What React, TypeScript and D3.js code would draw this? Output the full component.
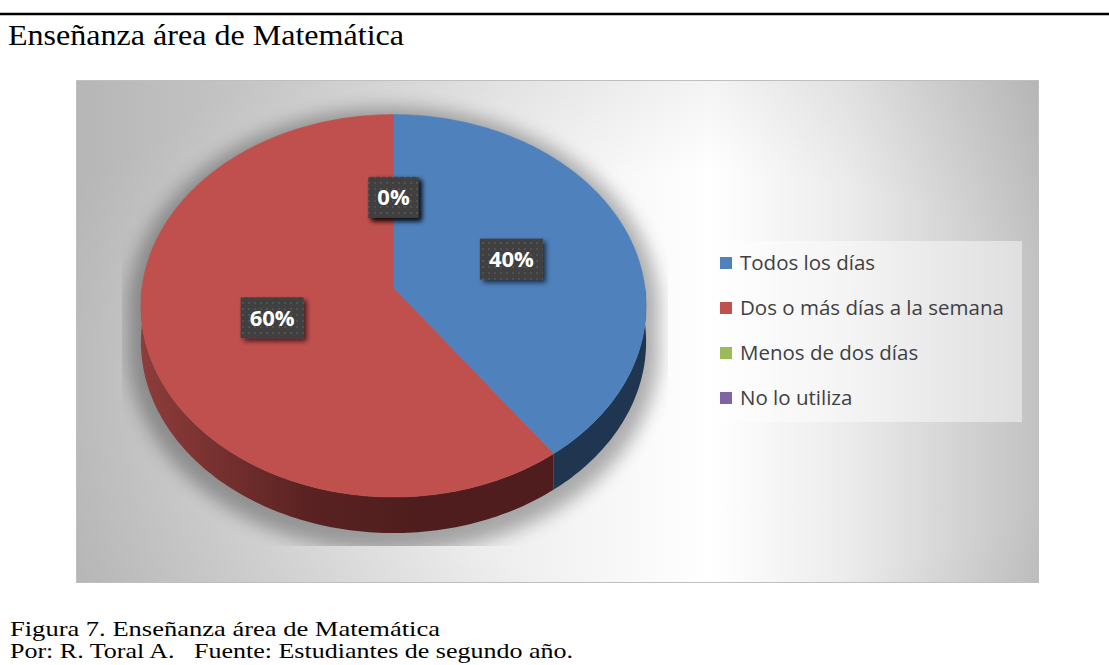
import React from "react";
import * as d3 from "d3";

const categories = ["Todos los días", "Dos o más días a la semana", "Menos de dos días", "No lo utiliza"];
const values = [40, 60, 0, 0];
const percentLabels = ["40%", "60%", "0%", "0%"];
const topColors = ["#4F81BD", "#C0504D", "#9BBB59", "#8064A2"];
const sideColors = ["#1F3550", "url(#redSide)", "#4E5F2B", "#3D2F52"];

const W = 1109;
const H = 665;
const frame = { x: 76.5, y: 80.5, w: 962, h: 502 };
const cx = 393.5, cy = 288, A = 189.6, B = 251.5, persp = 0.093, depth = 36;

function project(a: number, r: number): [number, number] {
  const u = r * Math.sin(a);
  const w = -r * Math.cos(a);
  const d = 1 - persp * w;
  return [cx + (B * u) / d, cy + (A * w) / d];
}

function arcPoints(a0: number, a1: number): [number, number][] {
  const steps = Math.max(2, Math.ceil((a1 - a0) / (Math.PI / 180)));
  return d3.range(steps + 1).map((i) => project(a0 + ((a1 - a0) * i) / steps, 1));
}

const line = d3.line<[number, number]>();
const pieGen = d3.pie<number>().sort(null).value((d) => d);
const arcs = pieGen(values);

function topPath(s: number, e: number) {
  if (e - s < 1e-9) return null;
  return line([project(0, 0), ...arcPoints(s, e)]) + "Z";
}
function sidePath(s: number, e: number) {
  const lo = Math.max(s, Math.PI / 2);
  const hi = Math.min(e, (3 * Math.PI) / 2);
  if (hi - lo < 1e-9) return null;
  const top = arcPoints(lo, hi);
  const bottom = top.map(([x, y]) => [x, y + depth] as [number, number]).reverse();
  return line([...top, ...bottom]) + "Z";
}

const silhouetteTop = line(arcPoints(0, 2 * Math.PI)) + "Z";
const silhouetteSide = sidePath(Math.PI / 2, (3 * Math.PI) / 2);

const legendX = 720;
const legendRowY = d3.scalePoint<string>().domain(categories).range([263, 398]);

export default function App() {
  return (
    <svg width={W} height={H} style={{ position: "absolute", left: 0, top: 0 }}>
      <defs>
        <linearGradient id="bg" x1="0" x2="1" y1="0" y2="0">
          <stop offset="0" stopColor="#c6c6c6" />
          <stop offset="0.2" stopColor="#d8d8d8" />
          <stop offset="0.45" stopColor="#efefef" />
          <stop offset="0.66" stopColor="#ffffff" />
          <stop offset="0.8" stopColor="#ececec" />
          <stop offset="1" stopColor="#c2c2c2" />
        </linearGradient>
        <radialGradient id="vign" cx="0.65" cy="0.6" r="0.75">
          <stop offset="0.55" stopColor="#000" stopOpacity="0" />
          <stop offset="1" stopColor="#000" stopOpacity="0.08" />
        </radialGradient>
        <linearGradient id="redSide" gradientUnits="userSpaceOnUse" x1="140" x2="420" y1="0" y2="0">
          <stop offset="0" stopColor="#8E3D3B" />
          <stop offset="0.6" stopColor="#5A2222" />
          <stop offset="1" stopColor="#4F1D1D" />
        </linearGradient>
        <filter id="pieShadow" x="-20%" y="-20%" width="140%" height="140%">
          <feGaussianBlur stdDeviation="9" />
        </filter>
        <clipPath id="shadowClip">
          <rect x={122} y={80} width={546} height={466} />
        </clipPath>
        <filter id="boxShadow" x="-30%" y="-30%" width="170%" height="170%">
          <feDropShadow dx="3" dy="3" stdDeviation="2.5" floodColor="#000" floodOpacity="0.65" />
        </filter>
        <pattern id="dots" width="6" height="6" patternUnits="userSpaceOnUse">
          <rect width="6" height="6" fill="#3f3f3f" />
          <circle cx="3" cy="3" r="1" fill="#575757" />
        </pattern>
      </defs>

      <line x1={0} x2={W} y1={14} y2={14} stroke="#000" strokeWidth={2.6} />
      <text x={8} y={45} fontFamily="'Liberation Serif', 'Times New Roman', serif" fontSize={30}
        textLength={396} lengthAdjust="spacingAndGlyphs">Enseñanza área de Matemática</text>

      <rect x={frame.x} y={frame.y} width={frame.w} height={frame.h} fill="url(#bg)" />
      <rect x={frame.x} y={frame.y} width={frame.w} height={frame.h} fill="url(#vign)" stroke="#bfbfbf" strokeWidth={1} />

      <g clipPath="url(#shadowClip)">
        <g filter="url(#pieShadow)" opacity={0.3}>
          <path d={silhouetteTop} fill="#000" stroke="#000" strokeWidth={26} transform="translate(0,6)" />
          {silhouetteSide && <path d={silhouetteSide} fill="#000" stroke="#000" strokeWidth={26} transform="translate(0,6)" />}
        </g>
      </g>

      {arcs.map((a, i) => {
        const d = sidePath(a.startAngle, a.endAngle);
        return d ? <path key={"s" + i} d={d} fill={sideColors[i]} /> : null;
      })}
      {arcs.map((a, i) => {
        const d = topPath(a.startAngle, a.endAngle);
        return d ? <path key={"t" + i} d={d} fill={topColors[i]} stroke={topColors[i]} strokeWidth={0.5} /> : null;
      })}

      {arcs.map((a, i) => {
        const [lx, ly] = project((a.startAngle + a.endAngle) / 2, 0.5);
        const bw = 24 + 13 * percentLabels[i].length;
        const bh = 41;
        return (
          <g key={"l" + i}>
            <rect x={lx - bw / 2} y={ly - bh / 2} width={bw} height={bh} fill="url(#dots)" filter="url(#boxShadow)" />
            <text x={lx} y={ly + 8} textAnchor="middle" fill="#fff" fontWeight="bold"
              fontFamily="'Open Sans', sans-serif" fontSize={22}>{percentLabels[i]}</text>
          </g>
        );
      })}

      <rect x={707} y={241} width={315} height={181} fill="#fff" fillOpacity={0.45} />
      {categories.map((c, i) => {
        const y = legendRowY(c) as number;
        return (
          <g key={"g" + i}>
            <rect x={legendX} y={y - 6} width={12} height={12} fill={topColors[i]} />
            <text x={legendX + 20} y={y + 7} fill="#404040" fontFamily="'Open Sans', sans-serif" fontSize={20.5}>{c}</text>
          </g>
        );
      })}

      <text x={10} y={636} fontFamily="'Liberation Serif', 'Times New Roman', serif" fontSize={21}
        textLength={430} lengthAdjust="spacingAndGlyphs">Figura 7. Enseñanza área de Matemática</text>
      <text x={10} y={658} fontFamily="'Liberation Serif', 'Times New Roman', serif" fontSize={21}
        textLength={563} lengthAdjust="spacingAndGlyphs" style={{ whiteSpace: "pre" }}>Por: R. Toral A.   Fuente: Estudiantes de segundo año.</text>
    </svg>
  );
}
